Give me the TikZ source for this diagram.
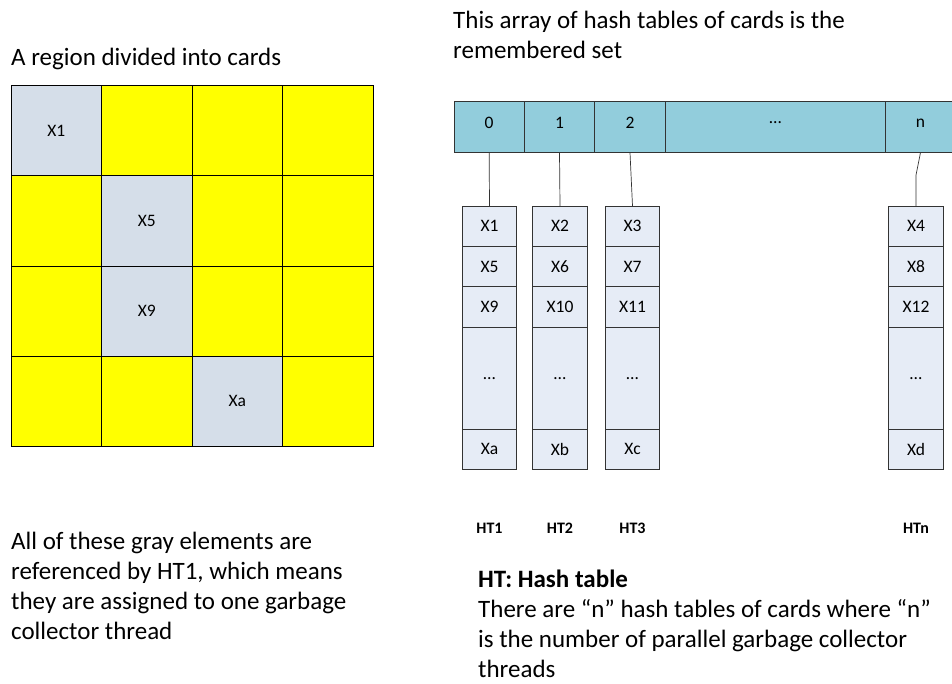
\documentclass[tikz,border=0pt]{standalone}
\usepackage{fontspec}
\setmainfont{Carlito}
\usepackage{xcolor}
\usetikzlibrary{positioning}

\definecolor{cardyellow}{HTML}{FFFF00}
\definecolor{cardgray}{HTML}{D5DEE9}
\definecolor{rsetteal}{HTML}{92CDDC}
\definecolor{htfill}{HTML}{E6ECF6}

\newcommand{\uplabel}[1]{\raisebox{8pt}{#1}}

\begin{document}
\begin{tikzpicture}[
    x=1pt, y=-1pt,
    card/.style={
      rectangle, draw=black, fill=cardyellow, line width=0.8pt,
      minimum width=90.5pt, minimum height=90.3pt, inner sep=0pt, outer sep=0pt,
      font=\fontsize{17.5}{20}\selectfont
    },
    graycard/.style={card, fill=cardgray},
    rsetcell/.style={
      rectangle, draw=black!80, fill=rsetteal, line width=0.7pt,
      minimum height=51.7pt, inner sep=0pt, outer sep=0pt,
      font=\fontsize{17.5}{20}\selectfont
    },
    htcell/.style={
      rectangle, draw=black!80, fill=htfill, line width=0.7pt,
      minimum width=54.4pt, minimum height=40.3pt, inner sep=0pt, outer sep=0pt,
      font=\fontsize{17.5}{20}\selectfont
    },
    htgap/.style={htcell, minimum height=102.3pt},
    htname/.style={font=\bfseries\fontsize{16}{18}\selectfont, anchor=base},
    note/.style={font=\fontsize{25}{30}\selectfont, align=left, anchor=base west, inner sep=0pt},
    link/.style={draw=black!80, line width=0.7pt},
  ]
  \useasboundingbox (0,0) rectangle (952,683);

  % region divided into cards
  \node[note] (regtitle) at (11,65) {A region divided into cards};
  \foreach \r in {0,...,3}
    \foreach \c in {0,...,3}
      \node[card] (c\r\c) at (56.3+90.5*\c, 130.5+90.3*\r) {};
  \node[graycard] (g1) at (c00) {X1};
  \node[graycard] (g5) at (c11) {X5};
  \node[graycard] (g9) at (c21) {X9};
  \node[graycard] (ga) at (c32) {Xa};

  % last line sits on the given baseline
  \node[note] (regnote) at (11,639) {All of these gray elements are\\referenced by HT1, which means\\they are assigned to one garbage\\collector thread};

  % remembered set array
  \node[note] (rsettitle) at (453,58) {This array of hash tables of cards is the\\remembered set};
  \node[rsetcell, minimum width=70.3pt, anchor=north west] (r0) at (454,101) {\uplabel{0}};
  \node[rsetcell, minimum width=70.4pt, right=0pt of r0] (r1) {\uplabel{1}};
  \node[rsetcell, minimum width=70.6pt, right=0pt of r1] (r2) {\uplabel{2}};
  \node[rsetcell, minimum width=220pt, right=0pt of r2] (rdots) {\uplabel{\dots}};
  \node[rsetcell, minimum width=70.3pt, right=0pt of rdots] (rn) {\uplabel{n}};

  % hash tables
  \node[htcell, anchor=north] (h1a) at (489.5,206) {X1};
  \node[htcell, below=0pt of h1a] (h1b) {X5};
  \node[htcell, below=0pt of h1b] (h1c) {X9};
  \node[htgap, below=0pt of h1c] (h1d) {\raisebox{-3pt}{\dots}};
  \node[htcell, below=0pt of h1d] (h1e) {Xa};

  \node[htcell, anchor=north] (h2a) at (560,206) {X2};
  \node[htcell, below=0pt of h2a] (h2b) {X6};
  \node[htcell, below=0pt of h2b] (h2c) {X10};
  \node[htgap, below=0pt of h2c] (h2d) {\raisebox{-3pt}{\dots}};
  \node[htcell, below=0pt of h2d] (h2e) {Xb};

  \node[htcell, anchor=north] (h3a) at (632.5,206) {X3};
  \node[htcell, below=0pt of h3a] (h3b) {X7};
  \node[htcell, below=0pt of h3b] (h3c) {X11};
  \node[htgap, below=0pt of h3c] (h3d) {\raisebox{-3pt}{\dots}};
  \node[htcell, below=0pt of h3d] (h3e) {Xc};

  \node[htcell, anchor=north] (hna) at (916,206) {X4};
  \node[htcell, below=0pt of hna] (hnb) {X8};
  \node[htcell, below=0pt of hnb] (hnc) {X12};
  \node[htgap, below=0pt of hnc] (hnd) {\raisebox{-3pt}{\dots}};
  \node[htcell, below=0pt of hnd] (hne) {Xd};

  \node[htname] (ht1) at (489.5,533) {HT1};
  \node[htname] (ht2) at (560,533) {HT2};
  \node[htname] (ht3) at (632.5,533) {HT3};
  \node[htname] (htn) at (916,533) {HTn};

  \coordinate (nbend) at (916,175);
  \draw[link] (r0.south) -- (h1a.north);
  \draw[link] (r1.south) -- (h2a.north);
  \draw[link] (r2.south) -- (h3a.north);
  \draw[link] (rn.south) -- (nbend) -- (hna.north);

  \node[note] (htnote) at (478,677) {\textbf{HT: Hash table}\\There are “n” hash tables of cards where “n”\\is the number of parallel garbage collector\\threads};
\end{tikzpicture}
\end{document}
